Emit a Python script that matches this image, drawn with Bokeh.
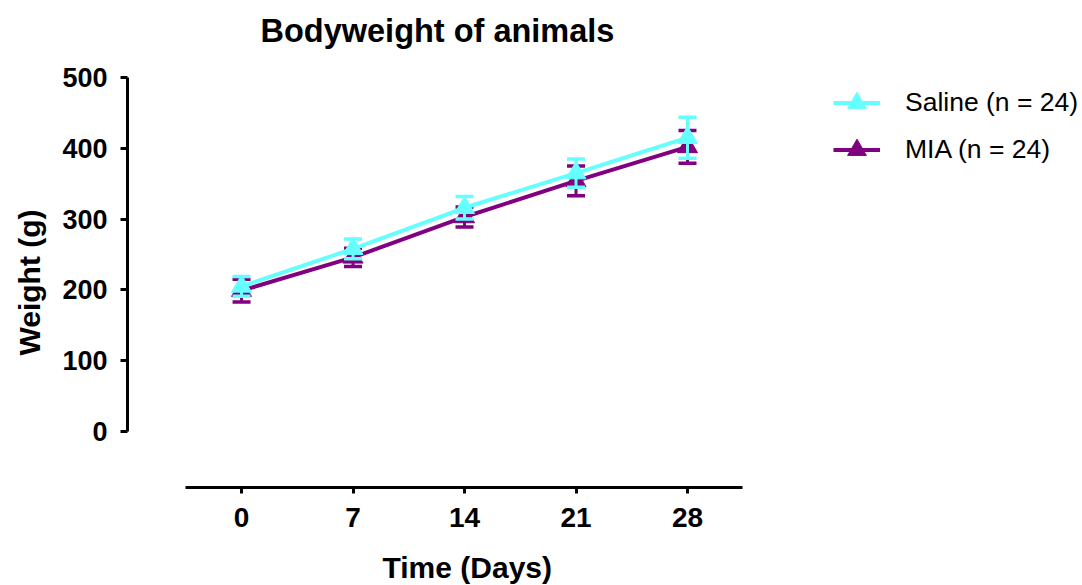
from bokeh.plotting import figure
from bokeh.models import Range1d, Legend, LegendItem, FixedTicker, ColumnDataSource, Title
from bokeh.embed import file_html
from bokeh.resources import INLINE

# ---- data ----
days = [0, 7, 14, 21, 28]
saline_mean = [205, 258, 316, 365, 415]
saline_sem = [14, 14, 16, 20, 29]
mia_mean = [199, 246, 303, 354, 402]
mia_sem = [16, 13, 14, 21, 23]
series_labels = ["Saline (n = 24)", "MIA (n = 24)"]
series_colors = ["#66FFFF", "#800080"]
y_ticks = [0, 100, 200, 300, 400, 500]
x_ticks = days
title_text = "Bodyweight of animals"
x_label = "Time (Days)"
y_label = "Weight (g)"

FONT = "Liberation Sans"

p = figure(width=1082, height=585, output_backend="svg", toolbar_location=None,
           x_range=Range1d(-7.16, 52.80), y_range=Range1d(-79.1, 500),
           min_border_left=127, min_border_right=0, min_border_top=77,
           min_border_bottom=98)

p.outline_line_color = None
p.xgrid.visible = False
p.ygrid.visible = False
p.background_fill_color = "white"
p.border_fill_color = "white"

def spacer(gap):
    # invisible spacer between the frame side and a title
    return Title(text=" ", text_font=FONT, text_font_size="1px", standoff=gap,
                 text_color="white")

# main title (spacer first = nearest to the frame)
p.add_layout(spacer(26), "above")
p.add_layout(Title(text=title_text, align="left", offset=133, vertical_align="bottom",
                   standoff=0, text_font=FONT, text_font_size="32.5px",
                   text_font_style="bold", text_color="black"), "above")

def style_axis(ax, tick_size):
    ax.axis_line_width = 3
    ax.axis_line_color = "black"
    ax.major_tick_line_width = 3
    ax.major_tick_line_color = "black"
    ax.major_tick_in = 0
    ax.minor_tick_line_color = None
    ax.major_label_text_font = FONT
    ax.major_label_text_font_style = "bold"
    ax.major_label_text_font_size = tick_size
    ax.major_label_text_color = "black"
    ax.axis_label_text_font = FONT
    ax.axis_label_text_font_style = "bold"
    ax.axis_label_text_font_size = "30px"
    ax.axis_label_text_color = "black"

xa = p.xaxis[0]
ya = p.yaxis[0]
style_axis(xa, "28px")
style_axis(ya, "27px")
xa.major_tick_out = 6
ya.major_tick_out = 7
xa.ticker = FixedTicker(ticks=x_ticks)
ya.ticker = FixedTicker(ticks=y_ticks)
xa.bounds = (-3.5, 31.45)
ya.bounds = (0, 500)
ya.axis_label = y_label
xa.major_label_standoff = 14
ya.major_label_standoff = 13
ya.axis_label_standoff = 13

# x-axis title, centred under the axis line (placed as a below-panel title)
p.add_layout(spacer(16), "below")
p.add_layout(Title(text=x_label, align="left", offset=382 - 127, vertical_align="bottom",
                   standoff=0, text_font=FONT, text_font_size="30px",
                   text_font_style="bold", text_color="black"), "below")

order = [(mia_mean, mia_sem, 1), (saline_mean, saline_sem, 0)]
renderers = {}
for mean, sem, idx in order:
    color = series_colors[idx]
    src = ColumnDataSource(dict(
        x=days, y=mean,
        lo=[m - s for m, s in zip(mean, sem)],
        hi=[m + s for m, s in zip(mean, sem)],
    ))
    p.segment(x0="x", y0="lo", x1="x", y1="hi", source=src, line_color=color, line_width=3)
    p.scatter(x="x", y="lo", source=src, marker="dash", size=18, line_color=color, line_width=3.5)
    p.scatter(x="x", y="hi", source=src, marker="dash", size=18, line_color=color, line_width=3.5)
    lr = p.line(x="x", y="y", source=src, line_color=color, line_width=4)
    mr = p.scatter(x="x", y="y", source=src, marker="triangle", size=20,
                   fill_color=color, line_color=color)
    renderers[idx] = [lr, mr]

items = [LegendItem(label=series_labels[i], renderers=renderers[i]) for i in (0, 1)]

legend = Legend(items=items, location=(706, 314))
legend.label_text_font = FONT
legend.label_text_font_size = "26.5px"
legend.label_text_color = "black"
legend.glyph_width = 47
legend.glyph_height = 47
legend.label_height = 47
legend.spacing = 0
legend.padding = 0
legend.margin = 0
legend.label_standoff = 25
legend.border_line_color = None
legend.background_fill_alpha = 0
p.add_layout(legend)

open("out.html", "w").write(file_html(p, INLINE))
